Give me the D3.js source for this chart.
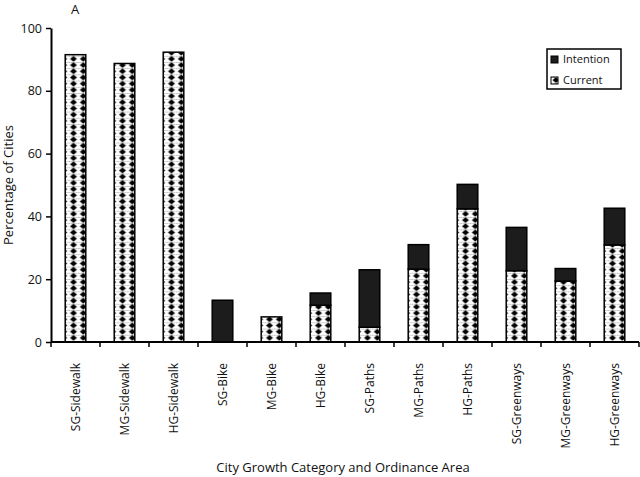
<!DOCTYPE html>
<html><head><meta charset="utf-8">
<script src="https://cdn.jsdelivr.net/npm/d3@7"></script>
<style>
body{margin:0;background:#fff;}
text{font-family:"Open Sans","Noto Sans",sans-serif;fill:#111;}
</style></head>
<body>
<svg id="c" width="640" height="477"></svg>
<script>
const categories = ["SG-Sidewalk","MG-Sidewalk","HG-Sidewalk","SG-Bike","MG-Bike","HG-Bike","SG-Paths","MG-Paths","HG-Paths","SG-Greenways","MG-Greenways","HG-Greenways"];
const current   = [91.5, 88.7, 92.3, 0, 8.0, 11.7, 4.7, 23.2, 42.4, 22.7, 19.4, 30.9];
const intention = [0, 0, 0, 13.3, 0, 3.9, 18.3, 7.8, 7.8, 13.8, 4.0, 11.7];
const yTicks = [0, 20, 40, 60, 80, 100];
const seriesNames = ["Intention", "Current"];

(function(){
const svg = d3.select("#c");
const mL = 51, mR = 639, mT = 28, mB = 342;

const defs = svg.append("defs");
const pw = 9.8, ph = 6.2;
const pat = defs.append("pattern").attr("id","diam").attr("patternUnits","userSpaceOnUse")
  .attr("width", pw).attr("height", ph).attr("x", 0).attr("y", 0);
pat.append("rect").attr("width",pw).attr("height",ph).attr("fill","#fff");
pat.append("line").attr("x1",0).attr("x2",pw).attr("y1",0.3).attr("y2",0.3).attr("stroke","#444").attr("stroke-width",0.6).attr("stroke-dasharray","1.2,1.2");
pat.append("path").attr("d",`M${pw/2},0.2 L${pw/2+3.5},${ph/2} L${pw/2},${ph-0.2} L${pw/2-3.5},${ph/2} Z`).attr("fill","#000");

const x = d3.scaleBand().domain(categories).range([mL, mR]).padding(0);
const y = d3.scaleLinear().domain([0,100]).range([mB, mT]);
const bw = x.bandwidth()*0.42;

const data = categories.map((c,i)=>({c, cur: current[i], int: intention[i]}));

const g = svg.append("g");
g.selectAll("rect.cur").data(data.filter(d=>d.cur>0)).join("rect").attr("class","cur")
  .attr("x", d=>x(d.c)+x.bandwidth()/2-bw/2).attr("width", bw)
  .attr("y", d=>y(d.cur)).attr("height", d=>y(0)-y(d.cur))
  .attr("fill","url(#diam)").attr("stroke","#000").attr("stroke-width",1.5);
g.selectAll("rect.int").data(data.filter(d=>d.int>0)).join("rect").attr("class","int")
  .attr("x", d=>x(d.c)+x.bandwidth()/2-bw/2).attr("width", bw)
  .attr("y", d=>y(d.cur+d.int)).attr("height", d=>y(d.cur)-y(d.cur+d.int))
  .attr("fill","#1c1c1c").attr("stroke","#000").attr("stroke-width",1.5);

const ya = svg.append("g").attr("transform",`translate(${mL},0)`)
  .call(d3.axisLeft(y).tickValues(yTicks).tickSize(5).tickSizeOuter(0).tickPadding(4));
ya.select(".domain").attr("stroke","#000").attr("stroke-width",2);
ya.selectAll(".tick line").attr("stroke","#000").attr("stroke-width",1.5);
ya.selectAll(".tick text").style("font-family","'Open Sans',sans-serif").style("font-size","12.5px").attr("fill","#111");

const xa = svg.append("g");
xa.append("line").attr("x1",mL).attr("x2",mR).attr("y1",mB).attr("y2",mB).attr("stroke","#000").attr("stroke-width",2);
const bounds = categories.map(c=>x(c)).concat([mR]);
xa.selectAll("line.t").data(bounds).join("line").attr("class","t")
  .attr("x1",d=>d).attr("x2",d=>d).attr("y1",mB).attr("y2",mB+5).attr("stroke","#000").attr("stroke-width",1.5);
xa.selectAll("text.lab").data(categories).join("text").attr("class","lab")
  .attr("transform",d=>`translate(${x(d)+x.bandwidth()/2+4.5},363) rotate(-90)`)
  .attr("text-anchor","end").style("font-size","12px").text(d=>d);

svg.append("text").attr("x",343).attr("y",472).attr("text-anchor","middle").style("font-size","13px")
  .text("City Growth Category and Ordinance Area");
svg.append("text").attr("transform","translate(13,185) rotate(-90)").attr("text-anchor","middle").style("font-size","13px")
  .text("Percentage of Cities");
svg.append("text").attr("x",75).attr("y",14).attr("text-anchor","middle").style("font-size","13px").text("A");

const lg = svg.append("g");
lg.append("rect").attr("x",547).attr("y",49).attr("width",74).attr("height",40).attr("fill","#fff").attr("stroke","#000").attr("stroke-width",1.5);
const items = lg.selectAll("g.it").data(seriesNames).join("g").attr("class","it")
  .attr("transform",(d,i)=>`translate(551,${56+i*21})`);
items.append("rect").attr("width",7).attr("height",7)
  .attr("fill",(d,i)=>i===0?"#1c1c1c":"url(#diam)").attr("stroke","#000").attr("stroke-width",1);
items.append("text").attr("x",12).attr("y",7).style("font-size","11px").text(d=>d);
})();
</script>
</body></html>
